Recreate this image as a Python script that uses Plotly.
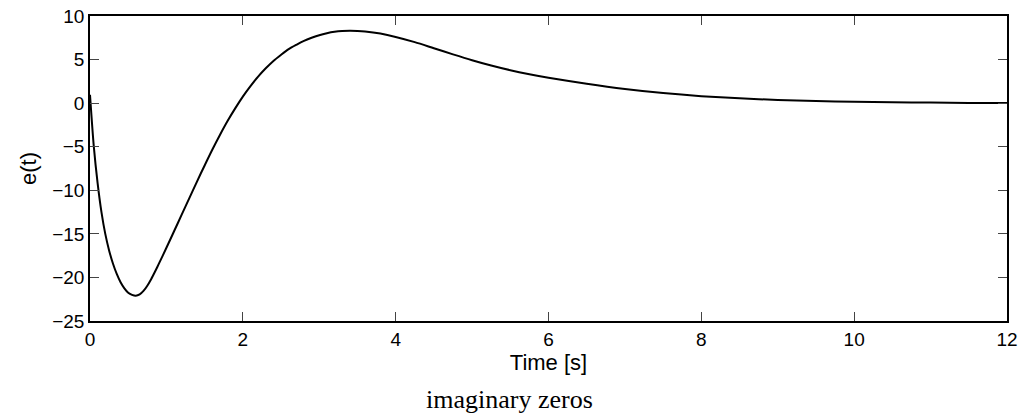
import plotly.graph_objects as go

# Time samples [s] and error signal e(t)
time_s = [0.0, 0.05, 0.1, 0.15, 0.2, 0.25, 0.3, 0.35, 0.4, 0.45, 0.5, 0.55,
          0.6, 0.65, 0.7, 0.75, 0.8, 0.85, 0.9, 1.0, 1.1, 1.2, 1.3, 1.4, 1.5,
          1.6, 1.7, 1.8, 1.9, 2.0, 2.1, 2.2, 2.3, 2.4, 2.5, 2.6, 2.7, 2.8,
          2.9, 3.0, 3.1, 3.2, 3.3, 3.4, 3.5, 3.6, 3.8, 4.0, 4.25, 4.5, 4.75,
          5.0, 5.25, 5.5, 5.75, 6.0, 6.5, 7.0, 7.5, 8.0, 8.5, 9.0, 9.5, 10.0,
          10.5, 11.0, 11.5, 12.0]
error_e = [0.95, -5.0, -9.2, -12.5, -15.0, -16.9, -18.4, -19.6, -20.55, -21.25,
           -21.75, -22.0, -22.1, -21.95, -21.55, -20.95, -20.2, -19.35, -18.45,
           -16.6, -14.7, -12.8, -10.9, -9.0, -7.15, -5.35, -3.65, -2.05, -0.6,
           0.75, 1.95, 3.05, 4.0, 4.85, 5.55, 6.2, 6.7, 7.15, 7.5, 7.8, 8.02,
           8.18, 8.27, 8.3, 8.28, 8.22, 7.98, 7.6, 7.0, 6.3, 5.6, 4.93, 4.32,
           3.78, 3.32, 2.92, 2.22, 1.62, 1.15, 0.8, 0.55, 0.37, 0.25, 0.16,
           0.1, 0.06, 0.03, 0.01]

x_ticks = [0, 2, 4, 6, 8, 10, 12]
y_ticks = [-25, -20, -15, -10, -5, 0, 5, 10]
y_tick_labels = ["\u221225", "\u221220", "\u221215", "\u221210", "\u22125", "0", "5", "10"]

sans = "Liberation Sans, Arial, sans-serif"

fig = go.Figure()
fig.add_trace(go.Scatter(x=time_s, y=error_e, mode="lines",
                         line=dict(color="black", width=2, shape="spline", smoothing=0.8),
                         showlegend=False, hoverinfo="skip"))

axis_common = dict(showgrid=False, zeroline=False, showline=True, linecolor="black",
                   linewidth=1.5, mirror="ticks", ticks="inside", ticklen=9,
                   tickcolor="#444444", tickwidth=1, automargin=False,
                   tickfont=dict(family=sans, size=19, color="black"))

fig.update_xaxes(range=[0, 12], tickvals=x_ticks,
                 title=dict(text="Time [s]", standoff=0,
                            font=dict(family=sans, size=22, color="black")),
                 **axis_common)
fig.update_yaxes(range=[-25, 10], tickvals=y_ticks, ticktext=y_tick_labels,
                 title=dict(text="e(t)", standoff=10,
                            font=dict(family=sans, size=22, color="black")),
                 **axis_common)

fig.add_annotation(text="imaginary zeros", xref="paper", yref="paper",
                   x=(509.5 - 90) / 917, y=-0.259,
                   xanchor="center", yanchor="middle", showarrow=False,
                   font=dict(family="Liberation Serif, DejaVu Serif, serif", size=26, color="black"))

fig.update_layout(width=1019, height=416, plot_bgcolor="white", paper_bgcolor="white",
                  margin=dict(l=90, r=12, t=16, b=95))

fig.write_html("out.html", config={"displayModeBar": False},
               post_script="document.body.style.margin='0';document.body.style.overflow='hidden';")
